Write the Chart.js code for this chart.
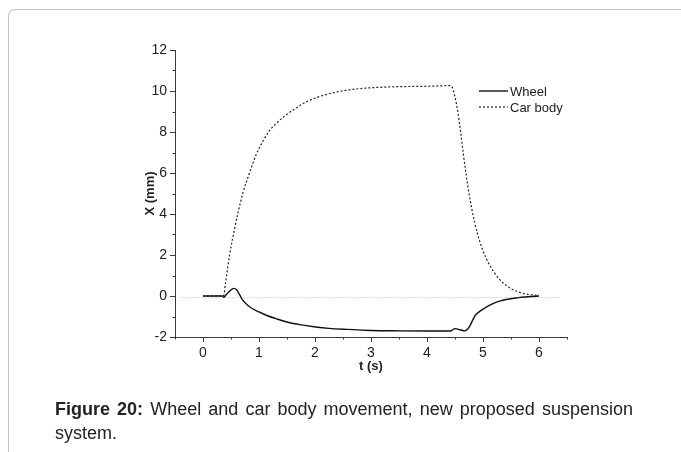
<!DOCTYPE html>
<html>
<head>
<meta charset="utf-8">
<script src="https://cdn.jsdelivr.net/npm/chart.js@4.4.0/dist/chart.umd.min.js"></script>
<style>
  html, body { margin: 0; padding: 0; background: #fff; }
  body { width: 681px; height: 452px; position: relative; overflow: hidden; font-family: "Liberation Sans", Arial, sans-serif; }
  #frame { position: absolute; left: 8px; top: 9px; width: 700px; height: 470px; border-left: 1px solid #c4c4c4; border-top: 1px solid #c4c4c4; border-top-left-radius: 7px; }
  #wrap { position: absolute; left: 0; top: 0; width: 681px; height: 452px; }
  #caption { position: absolute; left: 55px; top: 397px; width: 578px; font-size: 18px; line-height: 24px; color: #222; text-align: justify; }
</style>
</head>
<body>
<div id="frame"></div>
<div id="wrap"><canvas id="chart" width="681" height="452"></canvas></div>
<div id="caption"><b>Figure 20:</b> Wheel and car body movement, new proposed suspension system.</div>
<script>
// time (s) and displacement (mm)
let wheelT = [0, 0.2, 0.34, 0.37, 0.42, 0.48, 0.55, 0.6, 0.65, 0.7, 0.77, 0.85, 1.0, 1.14, 1.3, 1.5, 1.75, 1.98, 2.25, 2.57, 3.0, 3.5, 4.0, 4.42, 4.5, 4.6, 4.68, 4.73, 4.77, 4.82, 4.86, 4.92, 4.98, 5.13, 5.31, 5.55, 5.8, 6.0]
let wheelX = [0, 0, 0, -0.06, 0.08, 0.25, 0.37, 0.3, 0.08, -0.16, -0.38, -0.56, -0.78, -0.95, -1.1, -1.27, -1.41, -1.5, -1.58, -1.63, -1.68, -1.7, -1.71, -1.71, -1.59, -1.66, -1.7, -1.6, -1.43, -1.15, -0.95, -0.8, -0.68, -0.43, -0.24, -0.11, -0.04, 0]

let bodyT = [0, 0.2, 0.37, 0.4, 0.475, 0.55, 0.62, 0.72, 0.83, 0.95, 1.08, 1.17, 1.3, 1.44, 1.65, 1.85, 2.05, 2.27, 2.55, 2.86, 3.46, 4.0, 4.41, 4.45, 4.5, 4.55, 4.6, 4.65, 4.7, 4.75, 4.8, 4.85, 4.9, 5.0, 5.1, 5.2, 5.3, 5.4, 5.5, 5.6, 5.7, 5.8, 5.9, 6.0]
let bodyX = [0, 0, 0.03, 0.6, 2.0, 3.1, 4.0, 5.1, 6.0, 6.9, 7.6, 8.0, 8.4, 8.74, 9.15, 9.48, 9.7, 9.88, 10.03, 10.13, 10.21, 10.23, 10.26, 10.18, 9.7, 9.0, 8.0, 6.9, 5.9, 5.0, 4.25, 3.6, 3.05, 2.2, 1.6, 1.15, 0.8, 0.55, 0.36, 0.23, 0.14, 0.08, 0.05, 0.03]

let refT = [-0.4, 6.4]
let refX = [-0.08, -0.08]

let seriesNames = ['Wheel', 'Car body']
let xTickLabels = [0, 1, 2, 3, 4, 5, 6]
let yTickLabels = [-2, 0, 2, 4, 6, 8, 10, 12]

const toPoints = (ts, xs) => ts.map((t, i) => ({ x: t, y: xs[i] }))
const axisColor = '#3a3a3a'
const fontFamily = '"Liberation Sans", Arial, sans-serif'

// short minor ticks + legend drawn over the plot
const extras = {
    id: 'extras',
    afterDraw(chart) {
        const ctx = chart.ctx
        const xs = chart.scales.x, ys = chart.scales.y
        ctx.save()
        ctx.strokeStyle = axisColor
        ctx.lineWidth = 1
        ctx.beginPath()
        for (let v = -0.5; v <= 6.5; v += 0.5) {
            if (Number.isInteger(v)) continue
            const px = Math.round(xs.getPixelForValue(v)) + 0.5
            ctx.moveTo(px, xs.top)
            ctx.lineTo(px, xs.top + 2.5)
        }
        for (let v = -1; v <= 11; v += 2) {
            const py = Math.round(ys.getPixelForValue(v)) + 0.5
            ctx.moveTo(ys.right, py)
            ctx.lineTo(ys.right - 2.5, py)
        }
        ctx.stroke()

        // legend
        const lx = 479, ly = 91
        chart.data.datasets.slice(0, 2).forEach((ds, i) => {
            const y = ly + i * 16
            ctx.beginPath()
            ctx.setLineDash(ds.borderDash || [])
            ctx.lineWidth = ds.borderWidth
            ctx.strokeStyle = ds.borderColor
            ctx.moveTo(lx, y)
            ctx.lineTo(lx + 29, y)
            ctx.stroke()
            ctx.setLineDash([])
            ctx.fillStyle = '#222'
            ctx.font = '13px ' + fontFamily
            ctx.textBaseline = 'middle'
            ctx.fillText(ds.label, lx + 31, y + 1)
        })
        ctx.restore()
    }
}

const ctx = document.getElementById('chart').getContext('2d')
window.suspensionChart = new Chart(ctx, {
    type: 'line',
    data: {
        datasets: [
            {
                label: seriesNames[0],
                data: toPoints(wheelT, wheelX),
                borderColor: '#111',
                borderWidth: 1.4,
                pointRadius: 0,
                cubicInterpolationMode: 'monotone'
            },
            {
                label: seriesNames[1],
                data: toPoints(bodyT, bodyX),
                borderColor: '#222',
                borderWidth: 1.2,
                borderDash: [2, 2],
                pointRadius: 0,
                cubicInterpolationMode: 'monotone'
            },
            {
                label: 'zero',
                data: toPoints(refT, refX),
                borderColor: '#b0b0b0',
                borderWidth: 1,
                borderDash: [1, 2],
                pointRadius: 0
            }
        ]
    },
    options: {
        responsive: false,
        animation: false,
        layout: { padding: { left: 140, top: 50, right: 114, bottom: 78 } },
        plugins: {
            legend: { display: false },
            tooltip: { enabled: false }
        },
        scales: {
            x: {
                type: 'linear',
                min: -0.5,
                max: 6.5,
                afterFit: (scale) => { scale.height = 37 },
                border: { display: true, color: axisColor, width: 1 },
                grid: {
                    drawOnChartArea: false,
                    drawTicks: true,
                    tickLength: 5,
                    tickColor: (c) => xTickLabels.includes(c.tick.value) ? axisColor : 'rgba(0,0,0,0)'
                },
                ticks: {
                    stepSize: 0.5,
                    autoSkip: false,
                    maxRotation: 0,
                    padding: 3,
                    color: '#222',
                    font: { family: fontFamily, size: 14 },
                    callback: (v) => xTickLabels.includes(v) ? String(v) : ''
                },
                title: {
                    display: true,
                    text: 't (s)',
                    color: '#222',
                    padding: 0,
                    font: { family: fontFamily, size: 13, weight: 'bold' }
                }
            },
            y: {
                type: 'linear',
                min: -2,
                max: 12,
                afterFit: (scale) => { scale.width = 35 },
                border: { display: true, color: axisColor, width: 1 },
                grid: {
                    drawOnChartArea: false,
                    drawTicks: true,
                    tickLength: 5,
                    tickColor: axisColor
                },
                ticks: {
                    stepSize: 2,
                    autoSkip: false,
                    padding: 3,
                    color: '#222',
                    font: { family: fontFamily, size: 14 },
                    callback: (v) => yTickLabels.includes(v) ? String(v) : ''
                },
                title: {
                    display: true,
                    text: 'X (mm)',
                    color: '#222',
                    padding: { top: 3, bottom: 0 },
                    font: { family: fontFamily, size: 13, weight: 'bold' }
                }
            }
        }
    },
    plugins: [extras]
})
</script>
</body>
</html>
